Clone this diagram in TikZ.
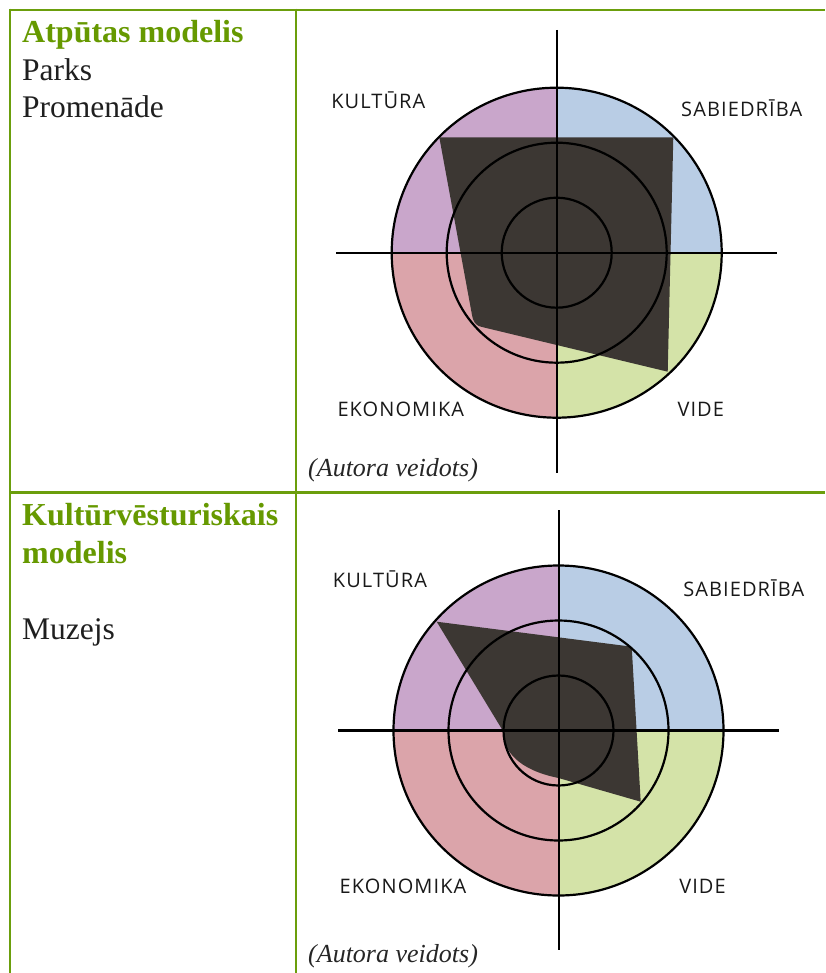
\documentclass[tikz,border=0pt]{standalone}
\usepackage{fontspec}
\setmainfont{Liberation Serif}
\newfontfamily\lblfont[LetterSpace=5.5]{Open Sans}
\usetikzlibrary{calc}
\definecolor{tabgreen}{RGB}{107,158,12}
\definecolor{headgreen}{RGB}{102,153,0}
\definecolor{kultura}{RGB}{201,166,203}
\definecolor{sabiedriba}{RGB}{185,205,229}
\definecolor{vide}{RGB}{212,227,168}
\definecolor{ekonomika}{RGB}{219,164,170}
\definecolor{scorefill}{RGB}{60,55,51}
\begin{document}
\begin{tikzpicture}[x=1pt,y=-1pt,
  tline/.style={tabgreen, line width=2.8pt},
  ring/.style={black, line width=2.2pt},
  axis/.style={black, line width=2.2pt},
  head/.style={anchor=base west, inner sep=0, text=headgreen, font=\fontsize{32}{37}\selectfont\bfseries},
  body/.style={anchor=base west, inner sep=0, text=black!88, font=\fontsize{31.5}{37}\selectfont},
  note/.style={anchor=base west, inner sep=0, text=black!85, font=\fontsize{26}{30}\selectfont\itshape},
  lbl/.style={anchor=base, inner sep=0, text=black!90, font={\fontsize{20}{22}\lblfont}}]
\useasboundingbox (0,0) rectangle (825,973);
\fill[white] (0,0) rectangle (825,973);

% quadrants
\foreach \cx/\cy in {556.7/252.7, 558.5/730.5} {
	\fill[kultura] (\cx,\cy) -- ++(-165,0) arc[start angle=180, end angle=270, radius=165] -- cycle;
	\fill[sabiedriba] (\cx,\cy) -- ++(0,-165) arc[start angle=270, end angle=360, radius=165] -- cycle;
	\fill[vide] (\cx,\cy) -- ++(165,0) arc[start angle=0, end angle=90, radius=165] -- cycle;
	\fill[ekonomika] (\cx,\cy) -- ++(0,165) arc[start angle=90, end angle=180, radius=165] -- cycle;
}

% assessment shapes
\fill[scorefill] (439.3,137.3) -- (673.3,137.3) -- (667.7,371.7) -- (556.7,345)
	-- (482,327) .. controls (475,325.5) and (473,321) .. (472,315) -- cycle;
\fill[scorefill] (436.7,621.7) -- (631.7,646.7) -- (640.7,801.7) -- (558.5,778)
	.. controls (528,772) and (503,757) .. (503,731) -- cycle;

% rings and axes
\foreach \cx/\cy in {556.7/252.7, 558.5/730.5} {
	\foreach \r in {55,110,165} {
		\draw[ring] (\cx,\cy) circle[radius=\r];
	}
}
\draw[axis] (556.7,30) -- (556.7,473);
\draw[axis] (336,252.7) -- (776.7,252.7);
\draw[axis] (559.3,510) -- (559.3,950);
\draw[axis] (338,730.5) -- (779,730.5);

\node[lbl] (kult1) at (378.3,108.3) {KULTŪRA};
\node[lbl] (sab1) at (741.7,116.7) {SABIEDRĪBA};
\node[lbl] (eko1) at (400.8,416) {EKONOMIKA};
\node[lbl] (vide1) at (700.8,416) {VIDE};
\node[lbl] (kult2) at (380,587.3) {KULTŪRA};
\node[lbl] (sab2) at (743.7,596) {SABIEDRĪBA};
\node[lbl] (eko2) at (403,893.3) {EKONOMIKA};
\node[lbl] (vide2) at (702.5,893.3) {VIDE};

% table
\draw[tline] (10,10) -- (825,10);
\draw[tline] (10,492.5) -- (825,492.5);
\draw[tline] (10,8.6) -- (10,973);
\draw[tline] (296,8.6) -- (296,973);

\node[head] (atp) at (22,42.7) {Atpūtas modelis};
\node[body] (parks) at (22,80.3) {Parks};
\node[body] (prom) at (22,118) {Promenāde};
\node[note] (src1) at (308,476) {(Autora veidots)};

\node[head] (kv) at (22,525.7) {Kultūrvēsturiskais};
\node[head] (kvm) at (22,563.2) {modelis};
\node[body] (muz) at (22,639) {Muzejs};
\node[note] (src2) at (308,962) {(Autora veidots)};
\end{tikzpicture}
\end{document}
